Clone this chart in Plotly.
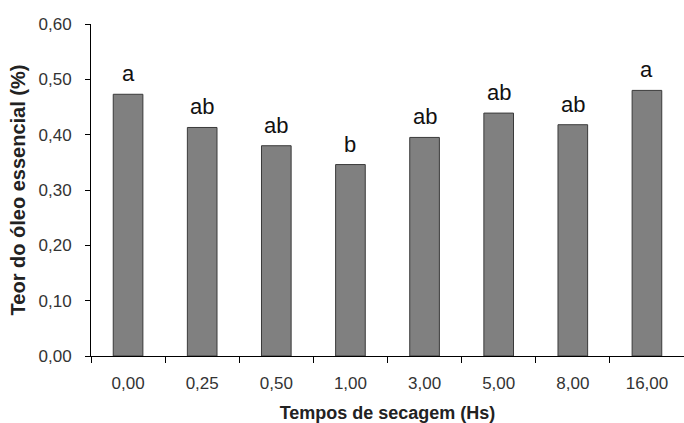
import plotly.graph_objects as go

# Drying times (hours) and essential-oil content (%)
tempos = ["0,00", "0,25", "0,50", "1,00", "3,00", "5,00", "8,00", "16,00"]
teor = [0.473, 0.413, 0.380, 0.346, 0.395, 0.439, 0.418, 0.480]
letras = ["a", "ab", "ab", "b", "ab", "ab", "ab", "a"]

fig = go.Figure()
fig.add_trace(go.Bar(
    x=tempos,
    y=teor,
    marker=dict(color="#808080", line=dict(color="#3a3a3a", width=1)),
    width=0.4,
    hoverinfo="x+y",
))

# Tukey-test letters above each bar
for t, v, l in zip(tempos, teor, letras):
    fig.add_annotation(
        x=t, y=v, text=l, showarrow=False,
        yanchor="bottom", yshift=6,
        font=dict(family="Liberation Sans, Arial", size=22, color="#111111"),
    )

fig.update_layout(
    width=684, height=423,
    margin=dict(l=91, r=0, t=24, b=67),
    paper_bgcolor="white", plot_bgcolor="white",
    separators=",.",
    showlegend=False,
    font=dict(family="Liberation Sans, Arial", color="#222222"),
)

fig.update_xaxes(
    type="category",
    showline=True, linecolor="#000000", linewidth=1,
    ticks="outside", tickson="boundaries", ticklen=6, tickcolor="#000000",
    tickfont=dict(size=17, color="#333333"),
    ticklabelstandoff=12,
    title=dict(text="<b>Tempos de secagem (Hs)</b>", font=dict(size=18, color="#222222"), standoff=17),
    showgrid=False,
    range=[-0.5, 7.5],
)

fig.update_yaxes(
    range=[0, 0.6],
    tickvals=[0, 0.1, 0.2, 0.3, 0.4, 0.5, 0.6],
    tickformat=".2f",
    showline=True, linecolor="#000000", linewidth=1,
    ticks="outside", ticklen=5, tickcolor="#000000",
    tickfont=dict(size=17, color="#333333"),
    ticklabelstandoff=10,
    title=dict(text="<b>Teor do óleo essencial (%)</b>", font=dict(size=20, color="#222222"), standoff=7),
    showgrid=False, zeroline=False,
)

fig.write_html("out.html")
